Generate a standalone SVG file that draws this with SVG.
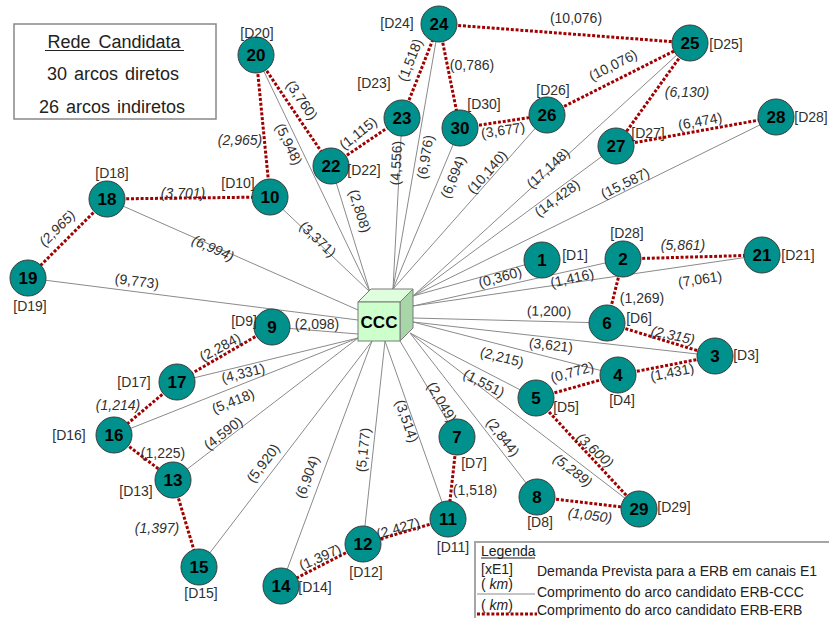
<svg xmlns="http://www.w3.org/2000/svg" width="829" height="618" viewBox="0 0 829 618">
<style>
.d{stroke:#8a8a8a;stroke-width:1;fill:none}
.i{stroke:#a00000;stroke-width:3;stroke-dasharray:3 1.8;fill:none}
.al{font-family:"Liberation Sans",Arial,sans-serif;font-size:14px;fill:#303030;text-anchor:middle;dominant-baseline:central}
.it{font-style:italic}
circle.n{fill:#00918c;stroke:#3c3c3c;stroke-width:1}
.nid{font-family:"Liberation Sans",Arial,sans-serif;font-size:17px;font-weight:bold;fill:#000;text-anchor:middle}
.dl{font-family:"Liberation Sans",Arial,sans-serif;font-size:14px;fill:#303030;text-anchor:middle}
.bx{font-family:"Liberation Sans",Arial,sans-serif;font-size:18px;fill:#222;text-anchor:middle}
.lg{font-family:"Liberation Sans",Arial,sans-serif;font-size:14px;fill:#222}
</style>
<rect width="829" height="618" fill="#fff"/>
<g id="connectors">
<line class="d" x1="256" y1="55" x2="370" y2="292"/>
<line class="d" x1="331" y1="166" x2="370" y2="292"/>
<line class="d" x1="270" y1="197" x2="370" y2="292"/>
<line class="d" x1="402" y1="118" x2="393" y2="289"/>
<line class="d" x1="439" y1="24" x2="393" y2="289"/>
<line class="d" x1="460" y1="128" x2="393" y2="289"/>
<line class="d" x1="547" y1="115" x2="393" y2="289"/>
<line class="d" x1="690" y1="43" x2="413" y2="296"/>
<line class="d" x1="616" y1="146" x2="413" y2="296"/>
<line class="d" x1="776" y1="117" x2="413" y2="296"/>
<line class="d" x1="542" y1="260" x2="413" y2="296"/>
<line class="d" x1="623" y1="259" x2="413" y2="306"/>
<line class="d" x1="762" y1="255" x2="413" y2="306"/>
<line class="d" x1="607" y1="323" x2="413" y2="318"/>
<line class="d" x1="715" y1="356" x2="413" y2="322"/>
<line class="d" x1="618" y1="375" x2="413" y2="322"/>
<line class="d" x1="536" y1="398" x2="410" y2="333"/>
<line class="d" x1="639" y1="509" x2="410" y2="333"/>
<line class="d" x1="537" y1="497" x2="410" y2="333"/>
<line class="d" x1="457" y1="437" x2="400" y2="341"/>
<line class="d" x1="448" y1="519" x2="385" y2="341"/>
<line class="d" x1="363" y1="544" x2="385" y2="341"/>
<line class="d" x1="281" y1="586" x2="372" y2="341"/>
<line class="d" x1="199" y1="567" x2="372" y2="341"/>
<line class="d" x1="173" y1="480" x2="358" y2="338"/>
<line class="d" x1="114" y1="435" x2="358" y2="338"/>
<line class="d" x1="177" y1="382" x2="358" y2="338"/>
<line class="d" x1="272" y1="327" x2="358" y2="334"/>
<line class="d" x1="28" y1="278" x2="358" y2="320"/>
<line class="d" x1="107" y1="199" x2="358" y2="310"/>
<line class="i" x1="256" y1="55" x2="270" y2="197"/>
<line class="i" x1="256" y1="55" x2="331" y2="166"/>
<line class="i" x1="331" y1="166" x2="402" y2="118"/>
<line class="i" x1="402" y1="118" x2="439" y2="24"/>
<line class="i" x1="439" y1="24" x2="460" y2="128"/>
<line class="i" x1="439" y1="24" x2="690" y2="43"/>
<line class="i" x1="460" y1="128" x2="547" y2="115"/>
<line class="i" x1="547" y1="115" x2="690" y2="43"/>
<line class="i" x1="690" y1="43" x2="616" y2="146"/>
<line class="i" x1="616" y1="146" x2="776" y2="117"/>
<line class="i" x1="107" y1="199" x2="270" y2="197"/>
<line class="i" x1="107" y1="199" x2="28" y2="278"/>
<line class="i" x1="623" y1="259" x2="762" y2="255"/>
<line class="i" x1="623" y1="259" x2="607" y2="323"/>
<line class="i" x1="607" y1="323" x2="715" y2="356"/>
<line class="i" x1="618" y1="375" x2="715" y2="356"/>
<line class="i" x1="536" y1="398" x2="618" y2="375"/>
<line class="i" x1="272" y1="327" x2="177" y2="382"/>
<line class="i" x1="177" y1="382" x2="114" y2="435"/>
<line class="i" x1="114" y1="435" x2="173" y2="480"/>
<line class="i" x1="173" y1="480" x2="199" y2="567"/>
<line class="i" x1="536" y1="398" x2="639" y2="509"/>
<line class="i" x1="537" y1="497" x2="639" y2="509"/>
<line class="i" x1="457" y1="437" x2="448" y2="519"/>
<line class="i" x1="448" y1="519" x2="363" y2="544"/>
<line class="i" x1="363" y1="544" x2="281" y2="586"/>
<g id="arc-labels">
<text class="al" transform="translate(289,144) rotate(64.3)">(5,948)</text>
<text class="al" transform="translate(360,211) rotate(72.8)">(2,808)</text>
<text class="al" transform="translate(318,239) rotate(43.5)">(3,371)</text>
<text class="al" transform="translate(396,163) rotate(-87)">(4,556)</text>
<text class="al" transform="translate(425,157) rotate(-80.2)">(6,976)</text>
<text class="al" transform="translate(453,177) rotate(-67.4)">(6,694)</text>
<text class="al" transform="translate(487,172) rotate(-48.5)">(10,140)</text>
<text class="al" transform="translate(548,168) rotate(-42.4)">(17,148)</text>
<text class="al" transform="translate(557,198) rotate(-36.5)">(14,428)</text>
<text class="al" transform="translate(625,183) rotate(-26.3)">(15,587)</text>
<text class="al" transform="translate(500,277) rotate(-15.6)">(0,360)</text>
<text class="al" transform="translate(572,278) rotate(-12.6)">(1,416)</text>
<text class="al" transform="translate(700,279) rotate(-8.3)">(7,061)</text>
<text class="al" transform="translate(549,311) rotate(1.5)">(1,200)</text>
<text class="al" transform="translate(551,345) rotate(6.4)">(3,621)</text>
<text class="al" transform="translate(502,357) rotate(14.5)">(2,215)</text>
<text class="al" transform="translate(484,383) rotate(27.3)">(1,551)</text>
<text class="al it" transform="translate(573,470) rotate(37.5)">(5,289)</text>
<text class="al" transform="translate(503,437) rotate(52.2)">(2,844)</text>
<text class="al" transform="translate(442,402) rotate(59.3)">(2,049)</text>
<text class="al" transform="translate(407,421) rotate(70.5)">(3,514)</text>
<text class="al" transform="translate(363,450) rotate(-83.8)">(5,177)</text>
<text class="al" transform="translate(307,477) rotate(-69.6)">(6,904)</text>
<text class="al" transform="translate(263,463) rotate(-52.6)">(5,920)</text>
<text class="al" transform="translate(223,433) rotate(-37.5)">(4,590)</text>
<text class="al" transform="translate(233,401) rotate(-21.7)">(5,418)</text>
<text class="al" transform="translate(243,373) rotate(-13.7)">(4,331)</text>
<text class="al" transform="translate(317,324)">(2,098)</text>
<text class="al" transform="translate(137,281) rotate(7.3)">(9,773)</text>
<text class="al it" transform="translate(213,248) rotate(23.9)">(6,994)</text>
<text class="al it" transform="translate(240,140)">(2,965)</text>
<text class="al" transform="translate(302,100) rotate(56)">(3,760)</text>
<text class="al" transform="translate(358,133) rotate(-38)">(1,115)</text>
<text class="al" transform="translate(410,60) rotate(-68.5)">(1,518)</text>
<text class="al" transform="translate(472,65)">(0,786)</text>
<text class="al" transform="translate(576,18)">(10,076)</text>
<text class="al" transform="translate(503,130) rotate(-8.5)">(3,677)</text>
<text class="al" transform="translate(613,65) rotate(-26.7)">(10,076)</text>
<text class="al it" transform="translate(687,92)">(6,130)</text>
<text class="al" transform="translate(700,121) rotate(-10.3)">(6,474)</text>
<text class="al it" transform="translate(183,193)">(3,701)</text>
<text class="al it" transform="translate(57,228) rotate(-45)">(2,965)</text>
<text class="al it" transform="translate(683,245)">(5,861)</text>
<text class="al" transform="translate(642,298)">(1,269)</text>
<text class="al it" transform="translate(673,335) rotate(12)">(2,315)</text>
<text class="al" transform="translate(672,372) rotate(-11)">(1,431)</text>
<text class="al" transform="translate(572,372) rotate(-15.7)">(0,772)</text>
<text class="al" transform="translate(220,347) rotate(-28)">(2,284)</text>
<text class="al it" transform="translate(118,405)">(1,214)</text>
<text class="al" transform="translate(163,453)">(1,225)</text>
<text class="al it" transform="translate(157,528)">(1,397)</text>
<text class="al it" transform="translate(595,450) rotate(42)">(3,600)</text>
<text class="al it" transform="translate(590,515) rotate(7)">(1,050)</text>
<text class="al" transform="translate(475,490)">(1,518)</text>
<text class="al" transform="translate(398,528) rotate(-16)">(2,427)</text>
<text class="al" transform="translate(320,557) rotate(-24)">(1,397)</text>
</g>
</g>
<g id="ccc">
<polygon points="358,302 371,289 413,289 400,302" fill="#defede" stroke="#7a7a7a" stroke-width="1"/>
<polygon points="400,302 413,289 413,328 400,341" fill="#a9d6a9" stroke="#7a7a7a" stroke-width="1"/>
<rect x="358" y="302" width="42" height="39" fill="#ccffcc" stroke="#7a7a7a" stroke-width="1"/>
<text class="nid" x="379" y="328">CCC</text>
</g>
<g id="n1"><circle class="n" cx="542" cy="260" r="18"/><text class="nid" x="542" y="266">1</text><text class="dl" x="575" y="260">[D1]</text></g>
<g id="n2"><circle class="n" cx="623" cy="259" r="18"/><text class="nid" x="623" y="265">2</text><text class="dl" x="627" y="238">[D28]</text></g>
<g id="n3"><circle class="n" cx="715" cy="356" r="18"/><text class="nid" x="715" y="362">3</text><text class="dl" x="746" y="360">[D3]</text></g>
<g id="n4"><circle class="n" cx="618" cy="375" r="18"/><text class="nid" x="618" y="381">4</text><text class="dl" x="622" y="405">[D4]</text></g>
<g id="n5"><circle class="n" cx="536" cy="398" r="18"/><text class="nid" x="536" y="404">5</text><text class="dl" x="566" y="412">[D5]</text></g>
<g id="n6"><circle class="n" cx="607" cy="323" r="18"/><text class="nid" x="607" y="329">6</text><text class="dl" x="639" y="323">[D6]</text></g>
<g id="n7"><circle class="n" cx="457" cy="437" r="18"/><text class="nid" x="457" y="443">7</text><text class="dl" x="474" y="468">[D7]</text></g>
<g id="n8"><circle class="n" cx="537" cy="497" r="18"/><text class="nid" x="537" y="503">8</text><text class="dl" x="540" y="527">[D8]</text></g>
<g id="n9"><circle class="n" cx="272" cy="327" r="18"/><text class="nid" x="272" y="333">9</text><text class="dl" x="244" y="326">[D9]</text></g>
<g id="n10"><circle class="n" cx="270" cy="197" r="18"/><text class="nid" x="270" y="203">10</text><text class="dl" x="238" y="188">[D10]</text></g>
<g id="n11"><circle class="n" cx="448" cy="519" r="18"/><text class="nid" x="448" y="525">11</text><text class="dl" x="453" y="552">[D11]</text></g>
<g id="n12"><circle class="n" cx="363" cy="544" r="18"/><text class="nid" x="363" y="550">12</text><text class="dl" x="366" y="577">[D12]</text></g>
<g id="n13"><circle class="n" cx="173" cy="480" r="18"/><text class="nid" x="173" y="486">13</text><text class="dl" x="136" y="496">[D13]</text></g>
<g id="n14"><circle class="n" cx="281" cy="586" r="18"/><text class="nid" x="281" y="592">14</text><text class="dl" x="315" y="592">[D14]</text></g>
<g id="n15"><circle class="n" cx="199" cy="567" r="18"/><text class="nid" x="199" y="573">15</text><text class="dl" x="201" y="598">[D15]</text></g>
<g id="n16"><circle class="n" cx="114" cy="435" r="18"/><text class="nid" x="114" y="441">16</text><text class="dl" x="69" y="440">[D16]</text></g>
<g id="n17"><circle class="n" cx="177" cy="382" r="18"/><text class="nid" x="177" y="388">17</text><text class="dl" x="134" y="387">[D17]</text></g>
<g id="n18"><circle class="n" cx="107" cy="199" r="18"/><text class="nid" x="107" y="205">18</text><text class="dl" x="112" y="178">[D18]</text></g>
<g id="n19"><circle class="n" cx="28" cy="278" r="18"/><text class="nid" x="28" y="284">19</text><text class="dl" x="30" y="311">[D19]</text></g>
<g id="n20"><circle class="n" cx="256" cy="55" r="18"/><text class="nid" x="256" y="61">20</text><text class="dl" x="257" y="38">[D20]</text></g>
<g id="n21"><circle class="n" cx="762" cy="255" r="18"/><text class="nid" x="762" y="261">21</text><text class="dl" x="798" y="260">[D21]</text></g>
<g id="n22"><circle class="n" cx="331" cy="166" r="18"/><text class="nid" x="331" y="172">22</text><text class="dl" x="364" y="175">[D22]</text></g>
<g id="n23"><circle class="n" cx="402" cy="118" r="18"/><text class="nid" x="402" y="124">23</text><text class="dl" x="374" y="88">[D23]</text></g>
<g id="n24"><circle class="n" cx="439" cy="24" r="18"/><text class="nid" x="439" y="30">24</text><text class="dl" x="397" y="28">[D24]</text></g>
<g id="n25"><circle class="n" cx="690" cy="43" r="18"/><text class="nid" x="690" y="49">25</text><text class="dl" x="726" y="49">[D25]</text></g>
<g id="n26"><circle class="n" cx="547" cy="115" r="18"/><text class="nid" x="547" y="121">26</text><text class="dl" x="553" y="95">[D26]</text></g>
<g id="n27"><circle class="n" cx="616" cy="146" r="18"/><text class="nid" x="616" y="152">27</text><text class="dl" x="648" y="138">[D27]</text></g>
<g id="n28"><circle class="n" cx="776" cy="117" r="18"/><text class="nid" x="776" y="123">28</text><text class="dl" x="811" y="122">[D28]</text></g>
<g id="n29"><circle class="n" cx="639" cy="509" r="18"/><text class="nid" x="639" y="515">29</text><text class="dl" x="674" y="512">[D29]</text></g>
<g id="n30"><circle class="n" cx="460" cy="128" r="18"/><text class="nid" x="460" y="134">30</text><text class="dl" x="484" y="109">[D30]</text></g>
<g id="summary">
<rect x="14" y="24" width="202" height="95" fill="#fff" stroke="#888" stroke-width="1.5"/>
<text class="bx" x="114" y="48" word-spacing="3">Rede Candidata</text>
<line x1="45" y1="50.5" x2="184" y2="50.5" stroke="#222" stroke-width="1"/>
<text class="bx" x="113" y="80" word-spacing="2">30 arcos diretos</text>
<text class="bx" x="112" y="113" word-spacing="2">26 arcos indiretos</text>
</g>
<g id="legend">
<rect x="475" y="542" width="370" height="90" fill="#fff" stroke="#a6a6a6" stroke-width="2"/>
<text class="lg" x="481" y="556">Legenda</text>
<line x1="481" y1="558" x2="535" y2="558" stroke="#222" stroke-width="1"/>
<text class="lg" x="481" y="574">[xE1]</text>
<text class="lg" x="537" y="576">Demanda Prevista para a ERB em canais E1</text>
<text class="lg" x="481" y="589">( <tspan font-style="italic">km</tspan>)</text>
<line x1="477" y1="594" x2="535" y2="594" stroke="#8a8a8a" stroke-width="1"/>
<text class="lg" x="537" y="597">Comprimento do arco candidato ERB-CCC</text>
<text class="lg" x="481" y="610">( <tspan font-style="italic">km</tspan>)</text>
<line class="i" x1="477" y1="614" x2="537" y2="614"/>
<text class="lg" x="537" y="615">Comprimento do arco candidato ERB-ERB</text>
</g>
</svg>
